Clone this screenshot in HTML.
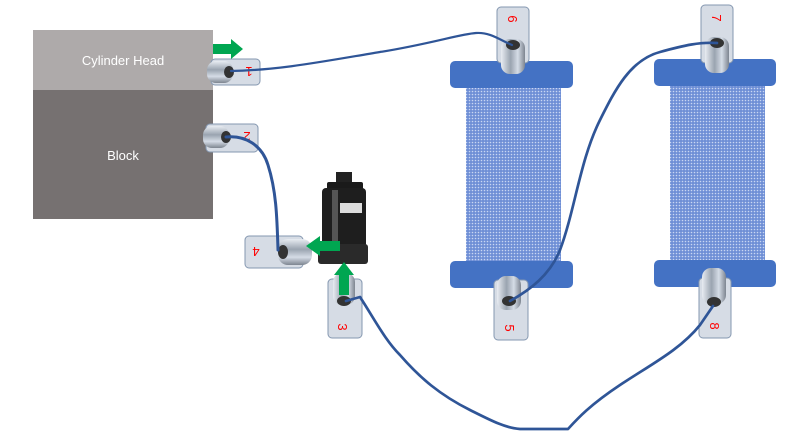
<!DOCTYPE html>
<html><head><meta charset="utf-8"><style>
html,body{margin:0;padding:0;background:#fff;}
svg{display:block;}
text{font-family:"Liberation Sans",sans-serif;}
</style></head><body>
<svg width="800" height="440" viewBox="0 0 800 440" xmlns="http://www.w3.org/2000/svg">
<defs>
<pattern id="mesh" width="3" height="3" patternUnits="userSpaceOnUse">
<rect width="3" height="3" fill="#6F8FD6"/>
<circle cx="1.5" cy="1.5" r="0.8" fill="#C9D6F2"/>
</pattern>
<linearGradient id="fit" x1="0" y1="0" x2="0" y2="1">
<stop offset="0" stop-color="#e8ecf2"/><stop offset="0.4" stop-color="#9aa4b0"/><stop offset="0.7" stop-color="#d5dce6"/><stop offset="1" stop-color="#7d8590"/>
</linearGradient>
<linearGradient id="fitv" x1="0" y1="0" x2="1" y2="0">
<stop offset="0" stop-color="#e8ecf2"/><stop offset="0.4" stop-color="#9aa4b0"/><stop offset="0.7" stop-color="#d5dce6"/><stop offset="1" stop-color="#7d8590"/>
</linearGradient>
</defs>
<rect x="33" y="30" width="180" height="60" fill="#AEAAAA"/>
<rect x="33" y="90" width="180" height="129" fill="#767171"/>
<text x="123" y="65" font-size="13" fill="#fff" text-anchor="middle">Cylinder Head</text>
<text x="123" y="160" font-size="13" fill="#fff" text-anchor="middle">Block</text>

<rect x="466" y="86" width="95" height="178" fill="url(#mesh)"/>
<rect x="450" y="61" width="123" height="27" rx="5" fill="#4472C4"/>
<rect x="450" y="261" width="123" height="27" rx="5" fill="#4472C4"/>
<rect x="670" y="84" width="95" height="178" fill="url(#mesh)"/>
<rect x="654" y="59" width="122" height="27" rx="5" fill="#4472C4"/>
<rect x="654" y="260" width="122" height="27" rx="5" fill="#4472C4"/>

<g fill="#D6DCE5" stroke="#8497B0" stroke-width="1">
<rect x="211" y="59" width="49" height="26" rx="4"/>
<rect x="206" y="124" width="52" height="28" rx="4"/>
<rect x="245" y="236" width="58" height="32" rx="4"/>
<rect x="328" y="279" width="34" height="59" rx="4"/>
<rect x="497" y="7" width="32" height="56" rx="4"/>
<rect x="494" y="280" width="34" height="60" rx="4"/>
<rect x="701" y="5" width="32" height="58" rx="4"/>
<rect x="699" y="278" width="32" height="60" rx="4"/>
</g>
<g fill="red" font-size="13" text-anchor="middle">
<text transform="translate(249,72) rotate(180)" dy="5">1</text>
<text transform="translate(247,137) rotate(180)" dy="5">2</text>
<text transform="translate(256,252) rotate(180)" dy="5">4</text>
<text transform="translate(343,327) rotate(90)" dy="5">3</text>
<text transform="translate(513,19) rotate(90)" dy="5">6</text>
<text transform="translate(510,328) rotate(90)" dy="5">5</text>
<text transform="translate(717,18) rotate(90)" dy="5">7</text>
<text transform="translate(715,326) rotate(90)" dy="5">8</text>
</g>

<g>
<rect x="207" y="61" width="26" height="22" rx="9" fill="url(#fit)"/>
<ellipse cx="229" cy="72" rx="5" ry="6" fill="#333"/>
<rect x="203" y="126" width="26" height="22" rx="9" fill="url(#fit)"/>
<ellipse cx="226" cy="137" rx="5" ry="6" fill="#333"/>
<rect x="278" y="239" width="34" height="26" rx="10" fill="url(#fit)"/>
<ellipse cx="283" cy="252" rx="5" ry="7" fill="#333"/>
</g>
<g>
<rect x="333" y="273" width="22" height="32" rx="9" fill="url(#fitv)"/>
<ellipse cx="344" cy="301" rx="7" ry="5" fill="#333"/>
<rect x="501" y="39" width="24" height="35" rx="9" fill="url(#fitv)"/>
<ellipse cx="513" cy="45" rx="7" ry="5" fill="#333"/>
<rect x="497" y="276" width="24" height="34" rx="9" fill="url(#fitv)"/>
<ellipse cx="509" cy="301" rx="7" ry="5" fill="#333"/>
<rect x="705" y="37" width="24" height="36" rx="9" fill="url(#fitv)"/>
<ellipse cx="717" cy="43" rx="7" ry="5" fill="#333"/>
<rect x="702" y="268" width="24" height="36" rx="9" fill="url(#fitv)"/>
<ellipse cx="714" cy="302" rx="7" ry="5" fill="#333"/>
</g>

<g>
<rect x="336" y="172" width="16" height="14" fill="#222"/>
<rect x="327" y="182" width="36" height="8" rx="2" fill="#1a1a1a"/>
<rect x="322" y="188" width="44" height="60" rx="4" fill="#1e1e1e"/>
<rect x="332" y="190" width="6" height="55" fill="#555"/>
<rect x="340" y="203" width="22" height="10" fill="#ddd"/>
<rect x="318" y="244" width="50" height="20" rx="3" fill="#2a2a2a"/>
</g>

<g fill="none" stroke="#2F5597" stroke-linecap="round" stroke-linejoin="round">
<path d="M231 71 C280 70 320 62 380 52 C430 44 460 34 476 33 C490 32 500 40 512 45" stroke-width="2.2"/>
<path d="M226 137 C245 135 262 145 268 165 C276 190 277 215 278 250" stroke-width="3"/>
<path d="M346 301 L360 297 C375 320 385 340 400 355 C420 378 440 395 470 410 C490 420 505 428 520 429 L568 429 C578 418 590 405 620 385 C650 365 680 350 700 325 L713 306" stroke-width="2.7"/>
<path d="M510 301 C530 290 550 275 560 250 C575 210 580 160 600 120 C615 90 630 60 660 52 C685 45 700 42 717 43" stroke-width="2.7"/>
</g>

<g fill="#00A651">
<polygon points="213,44 231,44 231,39 243,49 231,59 231,54 213,54"/>
<polygon points="340,241 320,241 320,236 306,246 320,256 320,251 340,251"/>
<polygon points="339,295 339,275 334,275 344,262 354,275 349,275 349,295"/>
</g>
</svg>
</body></html>
